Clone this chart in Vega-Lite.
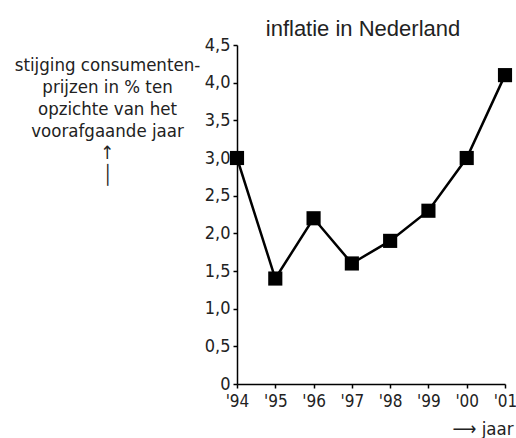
{
  "$schema": "https://vega.github.io/schema/vega-lite/v6.json",
  "autosize": "none",
  "width": 268,
  "height": 339,
  "padding": {"left": 237, "top": 45, "right": 11, "bottom": 54},
  "background": "white",
  "title": {
    "text": "inflatie in Nederland",
    "font": "Liberation Sans",
    "fontSize": 22,
    "fontWeight": "normal",
    "color": "#222",
    "anchor": "middle",
    "dx": -8,
    "offset": -5
  },
  "data": {
    "values": [
      {"jaar": "'94", "inflatie": 3.0},
      {"jaar": "'95", "inflatie": 1.4},
      {"jaar": "'96", "inflatie": 2.2},
      {"jaar": "'97", "inflatie": 1.6},
      {"jaar": "'98", "inflatie": 1.9},
      {"jaar": "'99", "inflatie": 2.3},
      {"jaar": "'00", "inflatie": 3.0},
      {"jaar": "'01", "inflatie": 4.1}
    ]
  },
  "config": {
    "view": {"stroke": null},
    "axis": {
      "domainColor": "black",
      "domainWidth": 1.5,
      "tickColor": "black",
      "tickWidth": 1.5,
      "tickSize": 4,
      "grid": false,
      "labelFont": "DejaVu Sans Condensed",
      "labelFontSize": 18,
      "labelColor": "#222",
      "titleFont": "DejaVu Sans Condensed",
      "titleFontSize": 18.5,
      "titleFontWeight": "normal",
      "titleColor": "#222"
    }
  },
  "encoding": {
    "x": {
      "field": "jaar",
      "type": "ordinal",
      "sort": null,
      "scale": {"type": "point", "padding": 0},
      "axis": {
        "labelAngle": 0,
        "labelPadding": 5,
        "labelFontSize": 17,
        "title": "⟶ jaar",
        "titleAlign": "right",
        "titleBaseline": "alphabetic",
        "titleX": 276,
        "titleY": 50
      }
    },
    "y": {
      "field": "inflatie",
      "type": "quantitative",
      "scale": {"domain": [0, 4.5], "nice": false, "zero": true},
      "axis": {
        "values": [0, 0.5, 1, 1.5, 2, 2.5, 3, 3.5, 4, 4.5],
        "labelExpr": "datum.value == 0 ? '0' : replace(format(datum.value, '.1f'), '.', ',')",
        "labelPadding": 3,
        "title": ["stijging consumenten-", "prijzen in % ten", "opzichte van het", "voorafgaande jaar", "↑", "│"],
        "titleAngle": 0,
        "titleAlign": "center",
        "titleBaseline": "top",
        "titleLineHeight": 22,
        "titleX": -130,
        "titleY": 10
      }
    }
  },
  "layer": [
    {"mark": {"type": "line", "color": "black", "strokeWidth": 2.5}},
    {"mark": {"type": "square", "color": "black", "opacity": 1, "size": 200}}
  ]
}
